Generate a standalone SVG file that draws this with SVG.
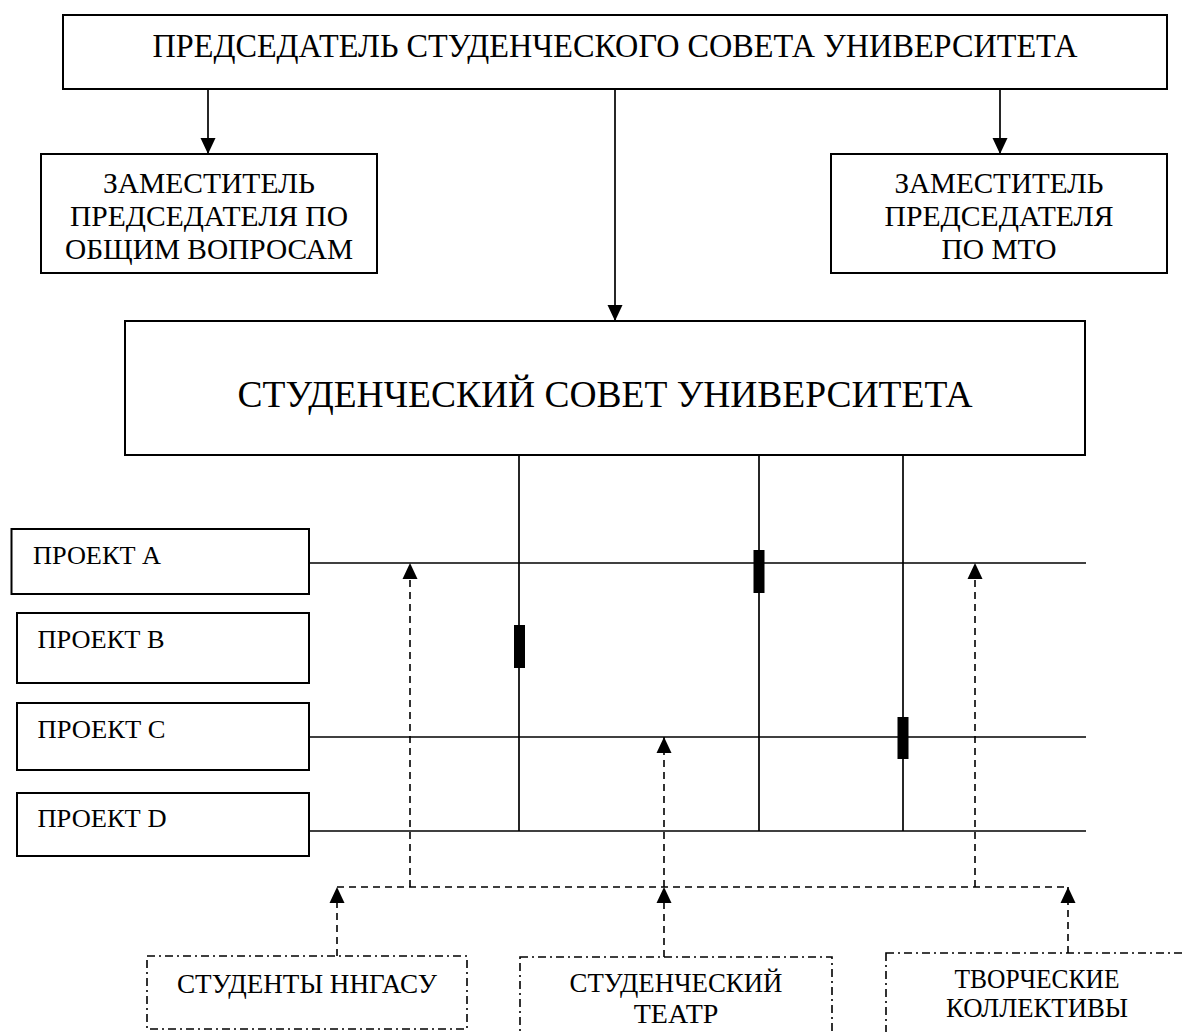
<svg xmlns="http://www.w3.org/2000/svg" width="1184" height="1032" viewBox="0 0 1184 1032">
<style>
  .box { fill: #fff; stroke: #000; stroke-width: 2; }
  .dbox { fill: none; stroke: #000; stroke-width: 1.6; stroke-dasharray: 8 4 2 4; }
  .ln { fill: none; stroke: #000; stroke-width: 1.7; }
  .dash { fill: none; stroke: #000; stroke-width: 1.6; stroke-dasharray: 7 5; }
  .bar { fill: #000; }
  text { font-family: "Liberation Serif", "Times New Roman", serif; fill: #000; }
  .c { text-anchor: middle; }
</style>
<defs>
  <marker id="ah" markerUnits="userSpaceOnUse" markerWidth="16" markerHeight="16" refX="16" refY="7.5" orient="auto" viewBox="0 0 16 15">
    <path d="M0,0 L16,7.5 L0,15 z" fill="#000"/>
  </marker>
</defs>
<rect width="1184" height="1032" fill="#fff"/>

<g id="connectors">
  <line class="ln" x1="208" y1="89" x2="208" y2="154" marker-end="url(#ah)"/>
  <line class="ln" x1="1000" y1="89" x2="1000" y2="154" marker-end="url(#ah)"/>
  <line class="ln" x1="615" y1="89" x2="615" y2="321" marker-end="url(#ah)"/>
  <line class="ln" x1="519" y1="455" x2="519" y2="831"/>
  <line class="ln" x1="759" y1="455" x2="759" y2="831"/>
  <line class="ln" x1="903" y1="455" x2="903" y2="831"/>
  <line class="ln" x1="309" y1="563" x2="1086" y2="563"/>
  <line class="ln" x1="309" y1="737" x2="1086" y2="737"/>
  <line class="ln" x1="309" y1="831" x2="1086" y2="831"/>
  <rect class="bar" x="514" y="625" width="11" height="43"/>
  <rect class="bar" x="753.5" y="550" width="11" height="43"/>
  <rect class="bar" x="897.5" y="717" width="11" height="42"/>
  <line class="dash" x1="337" y1="887" x2="1068" y2="887"/>
  <line class="dash" x1="410" y1="887" x2="410" y2="563" marker-end="url(#ah)"/>
  <line class="dash" x1="664" y1="887" x2="664" y2="737" marker-end="url(#ah)"/>
  <line class="dash" x1="975" y1="887" x2="975" y2="563" marker-end="url(#ah)"/>
  <line class="dash" x1="337" y1="956" x2="337" y2="887" marker-end="url(#ah)"/>
  <line class="dash" x1="664" y1="957" x2="664" y2="887" marker-end="url(#ah)"/>
  <line class="dash" x1="1068" y1="953" x2="1068" y2="887" marker-end="url(#ah)"/>
</g>

<g id="chairman">
  <rect class="box" x="63" y="15" width="1104" height="74"/>
  <text class="c" x="615" y="57" font-size="34" textLength="925" lengthAdjust="spacingAndGlyphs">ПРЕДСЕДАТЕЛЬ СТУДЕНЧЕСКОГО СОВЕТА УНИВЕРСИТЕТА</text>
</g>

<g id="deputy-general">
  <rect class="box" x="41" y="154" width="336" height="119"/>
  <text class="c" x="209" y="193" font-size="29" textLength="212" lengthAdjust="spacingAndGlyphs">ЗАМЕСТИТЕЛЬ</text>
  <text class="c" x="209" y="226" font-size="29" textLength="278" lengthAdjust="spacingAndGlyphs">ПРЕДСЕДАТЕЛЯ ПО</text>
  <text class="c" x="209" y="259" font-size="29" textLength="288" lengthAdjust="spacingAndGlyphs">ОБЩИМ ВОПРОСАМ</text>
</g>

<g id="deputy-mto">
  <rect class="box" x="831" y="154" width="336" height="119"/>
  <text class="c" x="999" y="193" font-size="29" textLength="209" lengthAdjust="spacingAndGlyphs">ЗАМЕСТИТЕЛЬ</text>
  <text class="c" x="999" y="226" font-size="29" textLength="229" lengthAdjust="spacingAndGlyphs">ПРЕДСЕДАТЕЛЯ</text>
  <text class="c" x="999" y="259" font-size="29" textLength="115" lengthAdjust="spacingAndGlyphs">ПО МТО</text>
</g>

<g id="council">
  <rect class="box" x="125" y="321" width="960" height="134"/>
  <text class="c" x="605" y="407" font-size="38" textLength="735" lengthAdjust="spacingAndGlyphs">СТУДЕНЧЕСКИЙ СОВЕТ УНИВЕРСИТЕТА</text>
</g>

<g id="project-a">
  <rect class="box" x="11.5" y="529" width="297.5" height="65"/>
  <text x="33" y="564" font-size="25" textLength="128" lengthAdjust="spacingAndGlyphs">ПРОЕКТ А</text>
</g>
<g id="project-b">
  <rect class="box" x="17" y="613" width="292" height="70"/>
  <text x="37.5" y="648" font-size="25" textLength="127" lengthAdjust="spacingAndGlyphs">ПРОЕКТ В</text>
</g>
<g id="project-c">
  <rect class="box" x="17" y="703" width="292" height="67"/>
  <text x="37.5" y="738" font-size="25" textLength="128" lengthAdjust="spacingAndGlyphs">ПРОЕКТ С</text>
</g>
<g id="project-d">
  <rect class="box" x="17" y="793" width="292" height="63"/>
  <text x="37.5" y="827" font-size="25" textLength="129" lengthAdjust="spacingAndGlyphs">ПРОЕКТ D</text>
</g>

<g id="students">
  <rect class="dbox" x="147" y="956" width="320" height="73"/>
  <text class="c" x="307" y="993" font-size="28" textLength="260" lengthAdjust="spacingAndGlyphs">СТУДЕНТЫ ННГАСУ</text>
</g>
<g id="theatre">
  <rect class="dbox" x="520" y="957" width="312" height="100"/>
  <text class="c" x="676" y="992" font-size="28" textLength="213" lengthAdjust="spacingAndGlyphs">СТУДЕНЧЕСКИЙ</text>
  <text class="c" x="676" y="1023" font-size="28">ТЕАТР</text>
</g>
<g id="collectives">
  <rect class="dbox" x="886" y="953" width="300" height="100"/>
  <text class="c" x="1037" y="988" font-size="28" textLength="165" lengthAdjust="spacingAndGlyphs">ТВОРЧЕСКИЕ</text>
  <text class="c" x="1037" y="1017" font-size="28" textLength="182" lengthAdjust="spacingAndGlyphs">КОЛЛЕКТИВЫ</text>
</g>
</svg>
